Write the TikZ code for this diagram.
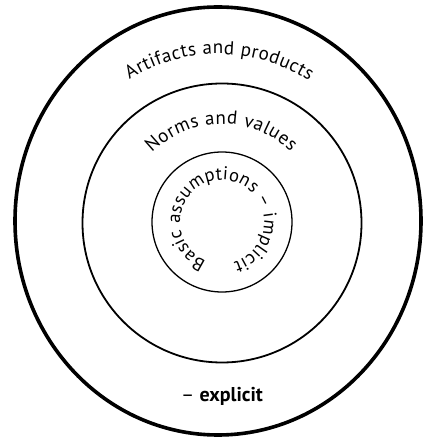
\documentclass[tikz,border=0pt]{standalone}
\usepackage{fontspec}
\setmainfont{PT Sans}
\usepackage{tikz}
\usetikzlibrary{shapes.geometric, decorations.text}

\begin{document}
\begin{tikzpicture}[
  x=1pt, y=1pt,
  ring/.style={draw, circle, inner sep=0pt},
]
\useasboundingbox (0,0) rectangle (424,439);

% Outer layer
\node[draw, ellipse, inner sep=0pt, line width=3.6pt,
      minimum width=406pt, minimum height=428pt] (artifacts) at (218,218) {};

% Middle layer
\node[ring, line width=1.8pt, minimum size=279pt] (norms) at (222,216) {};

% Core
\node[ring, line width=1.3pt, minimum size=140pt] (basic) at (222,217) {};

% Labels along the rings
\path[decorate, decoration={text along path, text align={fit to path},
      text={|\fontsize{19}{19}\selectfont|Artifacts and products}}]
  (artifacts.center) ++(122:167) arc[start angle=122, end angle=57, radius=167];

\path[decorate, decoration={text along path, text align={fit to path},
      text={|\fontsize{19}{19}\selectfont|Norms and values}}]
  (norms.center) ++(135:99) arc[start angle=135, end angle=46, radius=99];

\path[decorate, decoration={text along path, text align={fit to path},
      text={|\fontsize{18.5}{18.5}\selectfont|Basic assumptions – implicit}}]
  (basic.center) ++(248:42) arc[start angle=248, end angle=-74, radius=42];

% Bottom label
\node[font=\fontsize{20}{20}\selectfont] (explicit) at (222,43) {– \textbf{explicit}};

\end{tikzpicture}
\end{document}
